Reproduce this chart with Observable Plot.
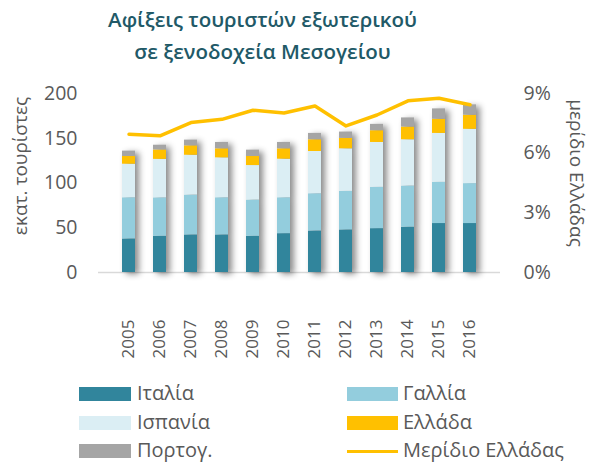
<!DOCTYPE html>
<html><head><meta charset="utf-8">
<script src="https://cdn.jsdelivr.net/npm/d3@7"></script>
<script src="https://cdn.jsdelivr.net/npm/@observablehq/plot@0.6"></script>
<style>
body{margin:0;background:#fff;font-family:"Open Sans",sans-serif;}
#wrap{position:relative;width:589px;height:462px;overflow:hidden;background:#fff;}
#title{position:absolute;left:0;top:3px;width:525px;text-align:center;color:#215967;font-size:20.5px;font-weight:600;line-height:32px;}
#chart{position:absolute;left:0;top:65px;}
.lg{position:absolute;font-size:20px;color:#595959;line-height:20px;white-space:nowrap;}
.sw{position:absolute;}
</style></head><body>
<div id="wrap">
<div id="title">Αφίξεις τουριστών εξωτερικού<br>σε ξενοδοχεία Μεσογείου</div>
<div id="chart"></div>
<div id="legend"></div>
</div>
<script>
const years = ["2005","2006","2007","2008","2009","2010","2011","2012","2013","2014","2015","2016"];
const countries = ["Ιταλία","Γαλλία","Ισπανία","Ελλάδα","Πορτογ."];
const colors = ["#31859C","#93CDDD","#DBEEF4","#FFC000","#A5A5A5"];
const italia  = [37.5, 40.4, 42, 42, 40.4, 43.4, 46.4, 47.6, 49, 50.6, 54.7, 54.7];
const gallia  = [46, 43, 44.5, 41.5, 40.5, 40.1, 41.6, 43, 46.1, 46, 46, 44.6];
const ispania = [37.5, 43, 44.5, 44.6, 38.6, 43.1, 47.2, 47.6, 50.2, 51.7, 54.7, 60.7];
const ellada  = [8.6, 10.5, 10.5, 10.1, 10.1, 11.6, 13.1, 11.6, 13.1, 14.2, 15.8, 15.7];
const portog  = [6, 5.3, 6.4, 7.1, 7.1, 7.1, 7.1, 7.1, 7.1, 10.2, 11.6, 11.6];
const shareGreece = [6.95, 6.87, 7.54, 7.7, 8.16, 8.02, 8.37, 7.37, 7.92, 8.63, 8.76, 8.43];
const leftTicks = [0, 50, 100, 150, 200];
const rightTicks = [0, 3, 6, 9];
const yLabelLeft = "εκατ. τουρίστες";
const yLabelRight = "μερίδιο Ελλάδας";
const lineLabel = "Μερίδιο Ελλάδας";

const series = [italia, gallia, ispania, ellada, portog];
const rows = [];
years.forEach((y, i) => countries.forEach((c, j) => rows.push({year: y, country: c, value: series[j][i]})));
const k = 200 / 9;
const lineData = years.map((y, i) => ({year: y, v: shareGreece[i] * k}));

const plot = Plot.plot({
  width: 589, height: 295,
  marginTop: 28, marginBottom: 88, marginLeft: 98, marginRight: 89,
  style: {fontFamily: "Open Sans", fontSize: "19px", color: "#595959", background: "transparent", overflow: "visible"},
  x: {domain: years, padding: 0.57, axis: null},
  y: {domain: [0, 200], axis: null},
  color: {domain: countries, range: colors},
  marks: [
    Plot.ruleY([0], {stroke: "#D9D9D9", strokeWidth: 1.5}),
    Plot.barY(rows, {x: "year", y: "value", fill: "country", order: countries}),
    Plot.line(lineData, {x: "year", y: "v", stroke: "#FFC000", strokeWidth: 3.5}),
    Plot.axisX({tickSize: 0, tickPadding: 47, tickRotate: -90, fontSize: 17, fill: "#595959", label: null}),
    Plot.axisY({anchor: "left", ticks: leftTicks, tickSize: 0, tickPadding: 21, label: null, fill: "#595959", fontSize: 19.5}),
    Plot.axisY({anchor: "right", ticks: rightTicks.map(t => t * k), tickFormat: d => Math.round(d / k) + "%", tickSize: 0, tickPadding: 23, label: null, fill: "#595959", fontSize: 19.5}),
    Plot.text([yLabelLeft], {text: d => d, frameAnchor: "left", textAnchor: "middle", dx: -78, dy: -17, rotate: -90, fontSize: 19, fill: "#595959"}),
    Plot.text([yLabelRight], {text: d => d, frameAnchor: "right", textAnchor: "middle", dx: 76, dy: -10, rotate: 90, fontSize: 19, fill: "#595959"})
  ]
});
d3.select(plot).selectAll('g[aria-label="bar"]').style("filter", "drop-shadow(4px 2px 3px rgba(0,0,0,0.45))");
document.getElementById("chart").appendChild(plot);

// legend
const legendItems = [
  {label: countries[0], color: colors[0], col: 0, row: 0, type: "rect"},
  {label: countries[1], color: colors[1], col: 1, row: 0, type: "rect"},
  {label: countries[2], color: colors[2], col: 0, row: 1, type: "rect"},
  {label: countries[3], color: colors[3], col: 1, row: 1, type: "rect"},
  {label: countries[4], color: colors[4], col: 0, row: 2, type: "rect"},
  {label: lineLabel, color: "#FFC000", col: 1, row: 2, type: "line"}
];
const leg = document.getElementById("legend");
const colX = [79, 347], colW = [52, 51], textX = [137, 403], rowY = [394, 423, 451];
legendItems.forEach(it => {
  const sw = document.createElement("div");
  sw.className = "sw";
  const h = it.type === "line" ? 3 : 14;
  sw.style.cssText = `left:${colX[it.col]}px;top:${rowY[it.row] - h / 2}px;width:${colW[it.col]}px;height:${h}px;background:${it.color};`;
  leg.appendChild(sw);
  const t = document.createElement("div");
  t.className = "lg";
  t.textContent = it.label;
  t.style.left = textX[it.col] + "px";
  t.style.top = (rowY[it.row] - 11) + "px";
  leg.appendChild(t);
});
</script>
</body></html>
